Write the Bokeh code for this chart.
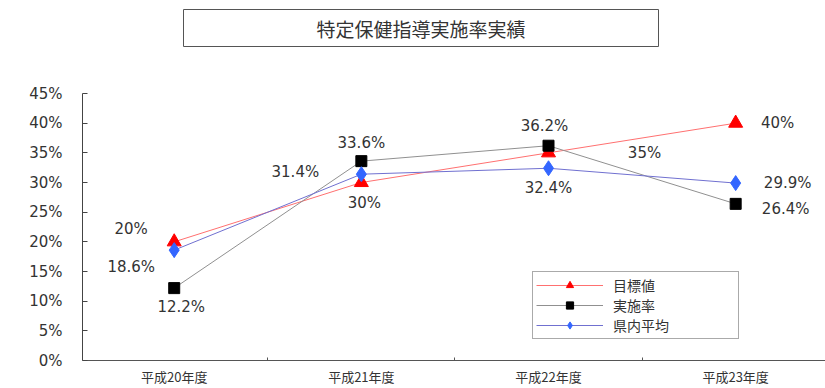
from bokeh.plotting import figure
from bokeh.models import (Range1d, FixedTicker, PrintfTickFormatter,
                          ColumnDataSource, Legend, LegendItem, Title)
from bokeh.core.properties import value
from bokeh.embed import file_html
from bokeh.resources import INLINE

# ---- data ----
title_text = "特定保健指導実施率実績"
years = ["平成20年度", "平成21年度", "平成22年度", "平成23年度"]
target = [20, 30, 35, 40]            # 目標値
actual = [12.2, 33.6, 36.2, 26.4]    # 実施率
pref_avg = [18.6, 31.4, 32.4, 29.9]  # 県内平均
y_ticks = [0, 5, 10, 15, 20, 25, 30, 35, 40, 45]

CJK_FONT = "Noto Sans CJK JP"
NUM_FONT = "DejaVu Sans"
TEXT_COLOR = "#333333"

xs = list(range(len(years)))

p = figure(width=825, height=388, output_backend="svg", toolbar_location=None,
           x_range=Range1d(-0.49, 3.48), y_range=Range1d(0, 45),
           min_border_left=82, min_border_right=0, min_border_top=93,
           min_border_bottom=28)
p.outline_line_color = None
p.grid.visible = False
p.background_fill_color = "white"
p.border_fill_color = "white"

# empty strip that keeps the boxed title clear of the plot area
p.add_layout(Title(text=" ", text_font_size="1px", standoff=42), "above")

# boxed title
p.title.text = title_text
p.title.align = "left"
p.title.offset = 101
p.title.standoff = 0
p.title.vertical_align = "top"
p.title.text_font = CJK_FONT
p.title.text_font_size = "19px"
p.title.text_font_style = "normal"
p.title.text_color = TEXT_COLOR
p.title.border_line_color = "#555555"
p.title.border_line_width = 1
p.title.background_fill_color = "white"
p.title.padding = dict(left=133, right=133, top=5, bottom=5)

# y axis
p.yaxis.ticker = FixedTicker(ticks=y_ticks)
p.yaxis.formatter = PrintfTickFormatter(format="%d%%")
p.yaxis.axis_line_color = "#444444"
p.yaxis.major_tick_line_color = "#444444"
p.yaxis.major_tick_in = 5
p.yaxis.major_tick_out = 0
p.yaxis.minor_tick_line_color = None
p.yaxis.major_label_standoff = 20
p.yaxis.major_label_text_font = NUM_FONT
p.yaxis.major_label_text_font_size = "15px"
p.yaxis.major_label_text_color = TEXT_COLOR

# x axis: labels at category centres, small ticks at the boundaries
p.xaxis.ticker = FixedTicker(ticks=xs, minor_ticks=[x + 0.5 for x in xs[:-1]])
p.xaxis.major_label_overrides = {x: y for x, y in zip(xs, years)}
p.xaxis.axis_line_color = "#555555"
p.xaxis.major_tick_line_color = None
p.xaxis.minor_tick_line_color = "#555555"
p.xaxis.minor_tick_in = 3
p.xaxis.minor_tick_out = 0
p.xaxis.major_label_standoff = 0
p.xaxis.major_label_text_font = CJK_FONT
p.xaxis.major_label_text_font_size = "13px"
p.xaxis.major_label_text_color = TEXT_COLOR

# series
series = [
    ("目標値", target, "#ff7070", "triangle", "#ff0000", 14),
    ("実施率", actual, "#909090", "square", "#000000", 11),
    ("県内平均", pref_avg, "#7070d0", "diamond", "#3366ff", 15),
]

items = []
for name, vals, line_color, marker, fill, size in series:
    src = ColumnDataSource(dict(x=xs, y=vals))
    ln = p.line("x", "y", source=src, line_color=line_color, line_width=1)
    sc = p.scatter("x", "y", source=src, marker=marker, size=size,
                   fill_color=fill, line_color=fill)
    items.append(LegendItem(label=name, renderers=[ln, sc]))

# value labels, pixel offsets of each label from its point
label_offsets = {
    "目標値": [(-43, -13), (3, 20), (96, 0), (42, 0)],
    "実施率": [(7, 19), (0, -18), (-4, -20), (50, 5)],
    "県内平均": [(-43, 17), (-66, -2), (0, 20), (52, 0)],
}
for name, vals, *_ in series:
    offs = label_offsets[name]
    src = ColumnDataSource(dict(
        x=xs, y=vals, text=[f"{v:g}%" for v in vals],
        dx=[o[0] for o in offs], dy=[o[1] for o in offs]))
    p.text("x", "y", text="text", source=src, x_offset="dx", y_offset="dy",
           text_align="center", text_baseline="middle",
           text_font=value(NUM_FONT), text_font_size="15px",
           text_color=TEXT_COLOR)

legend = Legend(items=items, location=(450, 21), orientation="vertical",
                padding=3, spacing=0, margin=0,
                glyph_width=67, glyph_height=18, label_height=18,
                label_width=122, label_standoff=10,
                label_text_font=CJK_FONT, label_text_font_size="14px",
                label_text_color=TEXT_COLOR,
                border_line_color="#555555", border_line_width=1,
                background_fill_color="white")
p.add_layout(legend, "center")

open("out.html", "w").write(file_html(p, INLINE))
